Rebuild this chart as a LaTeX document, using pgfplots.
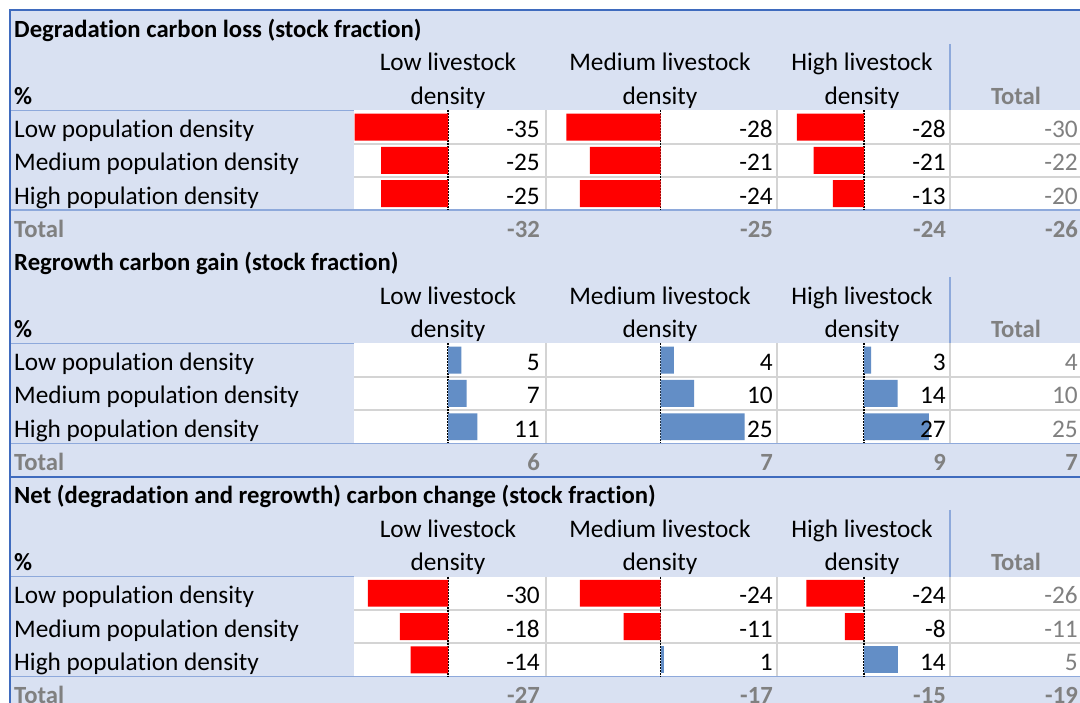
\documentclass[border=0pt]{standalone}
\usepackage{pgfplots}
\pgfplotsset{compat=1.18}
\usepackage{fontspec}
\setmainfont{Carlito}[RawFeature={-liga;-clig;-calt;-dlig;-rlig}]
\definecolor{lav}{HTML}{D9E1F2}
\definecolor{dblue}{HTML}{3F6BBE}
\definecolor{lblue}{HTML}{8EA9DB}
\definecolor{gridg}{HTML}{D4D4D4}
\definecolor{tgray}{HTML}{808080}
\definecolor{barred}{HTML}{FF0000}
\definecolor{barblue}{HTML}{638EC6}

% #1 left x, #2 top Y, #3 width, #4 xmin, #5 xmax, #6 coordinates
\newcommand{\barcell}[6]{%
\begin{axis}[at={(#1pt,#2pt)}, anchor=north west, width=#3pt, height=99.9pt,
  scale only axis, xmin=#4, xmax=#5, ymin=-0.5, ymax=2.5, y dir=reverse,
  axis line style={draw=none}, xtick=\empty, ytick=\empty,
  extra x ticks={0}, extra x tick labels={},
  extra x tick style={grid=major, major tick length=0pt,
    major grid style={black, line width=1.3pt, dash pattern=on 2pt off 1pt}},
  xbar, bar width=0.81, clip=false]
\addplot[fill=barred, draw=none, bar shift=0pt, restrict x to domain=-100:0] coordinates {#6};
\addplot[fill=barblue, draw=none, bar shift=0pt, restrict x to domain=0:100] coordinates {#6};
\end{axis}}

\newcommand{\bl}{665.35}
\newcommand{\drow}[6]{%
 \node[t, anchor=base west] at (14,{\bl-33.3*#1}) {#2};
 \node[t, anchor=base east] at (540,{\bl-33.3*#1}) {#3};
 \node[t, anchor=base east] at (773,{\bl-33.3*#1}) {#4};
 \node[t, anchor=base east] at (946,{\bl-33.3*#1}) {#5};
 \node[t, anchor=base east, text=tgray] at (1078,{\bl-33.3*#1}) {#6};
}
\newcommand{\trow}[5]{%
 \node[tb, anchor=base west, text=tgray] at (14,{\bl-33.3*#1}) {Total};
 \node[tb, anchor=base east, text=tgray] at (540,{\bl-33.3*#1}) {#2};
 \node[tb, anchor=base east, text=tgray] at (773,{\bl-33.3*#1}) {#3};
 \node[tb, anchor=base east, text=tgray] at (946,{\bl-33.3*#1}) {#4};
 \node[tb, anchor=base east, text=tgray] at (1078,{\bl-33.3*#1}) {#5};
}
\newcommand{\hrows}[2]{%
 \node[tb, anchor=base west] at (14,{\bl-33.3*#1}) {#2};
 \node[t, anchor=base] at (448,{\bl-33.3*(#1+1)}) {Low livestock};
 \node[t, anchor=base] at (660,{\bl-33.3*(#1+1)}) {Medium livestock};
 \node[t, anchor=base] at (862,{\bl-33.3*(#1+1)}) {High livestock};
 \node[t, anchor=base] at (448,{\bl-33.3*(#1+2)}) {density};
 \node[t, anchor=base] at (660,{\bl-33.3*(#1+2)}) {density};
 \node[t, anchor=base] at (862,{\bl-33.3*(#1+2)}) {density};
 \node[tb, anchor=base west] at (14,{\bl-33.3*(#1+2)}) {\%};
 \node[tb, anchor=base, text=tgray] at (1016,{\bl-33.3*(#1+2)}) {Total};
}

\begin{document}
\begin{tikzpicture}[x=1pt,y=1pt,
  t/.style={font=\fontsize{25.3}{30}\selectfont, inner sep=0pt},
  tb/.style={font=\fontsize{24.7}{30}\selectfont\bfseries, inner sep=0pt}]
\useasboundingbox (0,0) rectangle (1080,703);
\begin{scope}
\clip (0,0) rectangle (1080,703);
\fill[lav] (10,-10) rectangle (1090,692.5);
\foreach \p in {0,1,2} {
  \pgfmathsetmacro{\ya}{692.5-33.3*(7*\p+3)}
  \pgfmathsetmacro{\yb}{692.5-33.3*(7*\p+6)}
  \pgfmathsetmacro{\yc}{692.5-33.3*(7*\p+1)}
  \pgfmathsetmacro{\yr}{692.5-33.3*(7*\p+4)}
  \pgfmathsetmacro{\ys}{692.5-33.3*(7*\p+5)}
  \fill[white] (354,\yb) rectangle (1090,\ya);
  \draw[gridg, line width=2pt] (354,\yr) -- (1090,\yr) (354,\ys) -- (1090,\ys);
  \draw[gridg, line width=2pt] (546,\yb) -- (546,\ya) (777,\yb) -- (777,\ya) (950,\yb) -- (950,\ya);
  \draw[lblue, line width=1.6pt] (10,\ya) -- (354,\ya) (10,\yb) -- (1090,\yb) (950,\yc) -- (950,\ya);
}
\end{scope}

% Degradation carbon loss
\barcell{354}{592.6}{192}{-35.2}{36.7}{(-35,0) (-25,1) (-25,2)}
\barcell{546}{592.6}{231}{-34.08}{34.67}{(-28,0) (-21,1) (-24,2)}
\barcell{777}{592.6}{173}{-36.25}{35.83}{(-28,0) (-21,1) (-13,2)}
% Regrowth carbon gain
\barcell{354}{359.5}{192}{-35.2}{36.7}{(5,0) (7,1) (11,2)}
\barcell{546}{359.5}{231}{-34.08}{34.67}{(4,0) (10,1) (25,2)}
\barcell{777}{359.5}{173}{-36.25}{35.83}{(3,0) (14,1) (27,2)}
% Net carbon change
\barcell{354}{126.4}{192}{-35.2}{36.7}{(-30,0) (-18,1) (-14,2)}
\barcell{546}{126.4}{231}{-34.08}{34.67}{(-24,0) (-11,1) (1,2)}
\barcell{777}{126.4}{173}{-36.25}{35.83}{(-24,0) (-8,1) (14,2)}

\begin{scope}
\clip (0,0) rectangle (1080,703);
\hrows{0}{Degradation carbon loss (stock fraction)}
\drow{3}{Low population density}{-35}{-28}{-28}{-30}
\drow{4}{Medium population density}{-25}{-21}{-21}{-22}
\drow{5}{High population density}{-25}{-24}{-13}{-20}
\trow{6}{-32}{-25}{-24}{-26}

\hrows{7}{Regrowth carbon gain (stock fraction)}
\drow{10}{Low population density}{5}{4}{3}{4}
\drow{11}{Medium population density}{7}{10}{14}{10}
\drow{12}{High population density}{11}{25}{27}{25}
\trow{13}{6}{7}{9}{7}

\hrows{14}{Net (degradation and regrowth) carbon change (stock fraction)}
\drow{17}{Low population density}{-30}{-24}{-24}{-26}
\drow{18}{Medium population density}{-18}{-11}{-8}{-11}
\drow{19}{High population density}{-14}{1}{14}{5}
\trow{20}{-27}{-17}{-15}{-19}

\draw[dblue, line width=2pt] (10,-10) -- (10,692.5) -- (1090,692.5);
\draw[dblue, line width=2pt] (10,226.3) -- (1090,226.3);
\end{scope}
\end{tikzpicture}
\end{document}
